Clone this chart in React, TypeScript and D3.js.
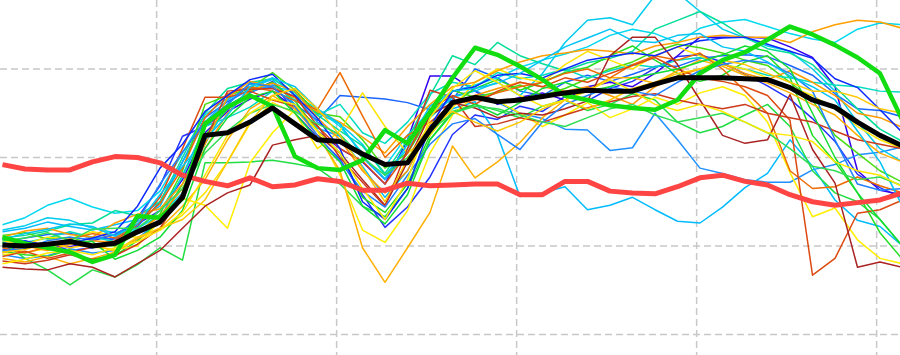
import React from "react";
import * as d3 from "d3";

const W = 900;
const H = 355;

// forecast step index (0..40)
const steps: number[] = d3.range(0, 41);
// positions of the vertical grid lines, in step units
const gridSteps: number[] = [6.85, 14.85, 22.85, 30.85, 38.85];
// horizontal grid values
const gridValues: number[] = [0, 10, 20, 30];

// ensemble mean (thick black)
const meanSeries: number[] = [10.1, 10.0, 10.2, 10.5, 10.0, 10.3, 11.6, 12.7, 15.5, 22.5, 22.8, 24.0, 25.6, 23.8, 22.0, 21.8, 20.4, 19.2, 19.4, 23.1, 26.2, 26.8, 26.3, 26.5, 26.9, 27.3, 27.6, 27.5, 27.5, 28.3, 29.0, 29.0, 29.0, 28.9, 28.8, 27.9, 26.5, 25.7, 24.0, 22.5, 21.3];
// climate reference (thick red)
const climateSeries: number[] = [19.2, 18.7, 18.6, 18.6, 19.5, 20.1, 20.0, 19.4, 18.0, 17.3, 16.8, 17.7, 16.7, 16.9, 17.6, 17.3, 16.3, 16.3, 17.1, 16.8, 16.9, 17.0, 17.0, 15.8, 15.8, 17.3, 17.3, 16.2, 16.0, 15.9, 16.7, 17.7, 18.0, 17.3, 16.9, 15.8, 15.0, 14.6, 14.9, 15.2, 16.0];
// control run (thick green)
const controlSeries: number[] = [11.0, 10.3, 9.8, 9.3, 8.2, 9.0, 13.4, 13.2, 15.4, 23.8, 25.7, 27.0, 25.8, 20.1, 18.8, 18.6, 19.7, 23.1, 21.6, 25.1, 29.0, 32.4, 31.6, 30.3, 28.8, 27.0, 26.5, 25.9, 25.6, 25.4, 26.5, 29.5, 31.0, 31.9, 33.3, 34.8, 33.9, 32.7, 31.3, 29.5, 24.2];

// ensemble members (thin lines)
const members: number[][] = [
  [9.6, 9.9, 10.3, 9.5, 9.8, 10.9, 13.2, 16.8, 22.4, 23.5, 25.4, 27.3, 28.6, 25.0, 22.3, 19.8, 15.8, 12.1, 14.4, 17.8, 22.6, 24.8, 24.3, 25.8, 25.2, 26.9, 26.4, 27.8, 28.6, 30.1, 31.4, 31.6, 30.8, 29.4, 28.1, 26.6, 24.4, 21.8, 18.1, 16.6, 15.4],
  [10.8, 10.5, 10.1, 9.9, 10.6, 11.3, 12.5, 14.0, 17.5, 22.8, 25.2, 26.6, 27.5, 25.5, 23.0, 21.0, 19.5, 17.0, 22.0, 29.2, 29.2, 27.5, 26.0, 26.8, 27.3, 26.5, 28.0, 28.5, 28.0, 29.5, 31.5, 33.6, 33.6, 33.6, 33.5, 32.5, 31.3, 28.0, 18.5, 16.3, 15.8],
  [10.4, 10.9, 11.3, 11.4, 10.9, 10.8, 12.2, 15.0, 19.5, 24.5, 26.3, 27.7, 27.9, 26.0, 24.2, 27.0, 26.8, 26.6, 26.2, 25.4, 26.5, 30.0, 29.0, 27.5, 27.0, 28.5, 29.3, 28.6, 29.4, 30.3, 30.3, 31.2, 31.5, 31.6, 31.4, 30.4, 29.3, 27.2, 25.5, 25.3, 24.6],
  [9.0, 8.6, 8.9, 9.7, 9.2, 9.5, 10.8, 13.0, 18.0, 23.5, 25.8, 27.4, 28.2, 26.8, 24.0, 22.5, 20.0, 17.5, 20.5, 24.8, 26.9, 27.6, 26.2, 25.0, 24.4, 23.2, 23.1, 20.8, 21.1, 25.0, 22.0, 18.8, 18.2, 17.5, 17.2, 17.2, 18.6, 19.2, 20.3, 20.6, 21.2],
  [11.6, 12.0, 12.7, 12.2, 11.8, 12.4, 13.0, 14.5, 19.5, 24.0, 26.5, 28.0, 28.8, 26.0, 23.3, 22.4, 19.0, 15.5, 18.5, 23.5, 25.5, 26.3, 22.5, 15.6, 16.0, 16.7, 14.1, 14.6, 15.5, 14.1, 12.8, 12.6, 14.4, 16.6, 18.2, 22.0, 19.0, 15.2, 12.9, 12.2, 10.0],
  [11.8, 12.3, 13.2, 12.9, 12.0, 11.5, 12.0, 13.5, 16.0, 21.5, 26.0, 28.3, 28.0, 27.5, 25.0, 23.8, 21.5, 18.0, 21.0, 24.5, 26.8, 27.5, 28.5, 27.0, 29.5, 33.0, 35.5, 35.8, 35.0, 38.3, 38.6, 36.5, 34.5, 33.5, 32.6, 32.0, 30.0, 27.5, 24.0, 21.0, 19.5],
  [12.4, 13.2, 14.6, 15.4, 14.4, 13.7, 14.0, 16.2, 20.5, 24.8, 26.7, 27.6, 29.0, 27.0, 25.5, 23.5, 20.5, 19.0, 22.5, 25.3, 27.5, 28.2, 29.0, 30.2, 31.0, 31.7, 32.5, 33.8, 34.5, 34.0, 33.0, 34.6, 35.3, 35.6, 34.8, 34.0, 33.4, 33.0, 34.5, 35.2, 35.0],
  [10.9, 11.2, 11.7, 12.4, 12.6, 14.0, 13.4, 15.0, 20.0, 25.0, 27.8, 28.5, 28.9, 27.3, 24.8, 23.0, 21.3, 18.2, 22.0, 27.0, 31.5, 30.5, 33.0, 31.5, 30.6, 29.8, 30.7, 31.2, 32.0, 34.5, 35.5, 36.5, 35.2, 33.6, 32.3, 31.8, 30.5, 28.0, 25.5, 23.2, 21.8],
  [10.4, 8.6, 7.3, 5.6, 7.3, 6.5, 7.9, 9.8, 8.4, 19.4, 19.4, 19.5, 19.7, 19.3, 18.8, 17.0, 14.5, 13.3, 16.5, 22.0, 25.2, 26.0, 25.3, 24.5, 25.8, 26.5, 25.3, 26.0, 27.2, 26.5, 24.0, 22.8, 23.5, 24.8, 26.0, 23.5, 18.5, 16.0, 15.0, 13.0, 10.0],
  [9.4, 9.0, 8.8, 9.6, 8.2, 8.9, 10.6, 12.8, 17.0, 22.5, 25.5, 27.5, 28.5, 26.4, 23.0, 20.5, 15.5, 13.8, 17.0, 22.5, 26.0, 27.8, 28.8, 27.6, 28.5, 29.6, 30.2, 31.5, 32.6, 31.0, 29.5, 28.6, 29.3, 30.8, 31.5, 29.0, 22.5, 19.5, 16.0, 11.5, 8.5],
  [11.2, 11.5, 10.8, 11.0, 10.2, 10.0, 11.4, 13.6, 18.5, 26.0, 27.0, 27.8, 29.6, 27.6, 25.0, 24.6, 22.0, 18.8, 20.5, 24.8, 27.6, 26.8, 27.4, 28.2, 27.0, 27.8, 28.9, 30.0, 30.8, 32.0, 32.8, 32.4, 31.8, 31.0, 30.4, 28.5, 26.5, 22.5, 20.5, 18.5, 17.2],
  [9.9, 10.4, 10.9, 11.6, 11.0, 10.5, 12.0, 14.0, 17.8, 23.5, 24.5, 25.7, 27.5, 26.5, 24.8, 26.0, 22.8, 21.6, 24.0, 27.2, 28.5, 28.0, 29.6, 28.9, 29.3, 30.0, 29.0, 29.8, 30.5, 30.2, 31.0, 31.3, 30.5, 30.0, 29.3, 29.0, 28.5, 28.2, 28.0, 27.5, 27.4],
  [9.0, 9.3, 9.7, 10.5, 9.9, 9.6, 10.0, 12.9, 15.4, 14.6, 12.0, 19.4, 22.8, 25.4, 23.0, 18.0, 11.8, 10.4, 14.0, 20.5, 24.8, 27.0, 26.4, 25.0, 23.5, 24.8, 26.2, 24.5, 25.5, 26.8, 26.0, 27.3, 28.0, 27.0, 24.0, 18.3, 13.3, 14.3, 10.7, 8.6, 8.0],
  [8.6, 8.2, 8.8, 8.0, 8.6, 9.3, 10.8, 12.0, 14.5, 17.5, 22.0, 25.5, 27.0, 25.5, 22.5, 18.5, 9.8, 5.9, 9.8, 13.8, 21.3, 17.7, 19.5, 21.7, 24.5, 26.5, 27.6, 29.0, 29.0, 28.4, 29.8, 31.0, 30.3, 29.3, 28.4, 27.3, 26.0, 24.8, 22.5, 20.5, 19.5],
  [10.6, 10.2, 11.0, 10.8, 11.6, 11.2, 11.0, 11.8, 13.5, 16.0, 19.5, 23.8, 26.2, 25.0, 21.0, 23.0, 27.3, 23.5, 20.5, 22.5, 25.6, 28.5, 30.0, 29.0, 28.5, 30.5, 32.0, 31.0, 30.0, 31.5, 32.5, 31.5, 30.5, 30.0, 29.0, 28.0, 27.0, 25.5, 23.5, 22.0, 21.0],
  [9.2, 10.0, 9.5, 10.2, 10.6, 10.4, 11.5, 13.4, 16.5, 21.0, 25.0, 27.6, 28.4, 27.5, 24.5, 22.0, 18.5, 16.0, 18.5, 23.5, 26.0, 27.0, 27.8, 28.5, 28.0, 27.5, 28.0, 27.0, 26.0, 28.0, 29.2, 30.0, 30.6, 29.5, 28.8, 29.8, 28.5, 27.0, 25.0, 24.5, 23.4],
  [11.0, 11.7, 12.0, 11.3, 11.0, 12.6, 13.6, 14.2, 17.0, 21.5, 26.8, 28.6, 28.0, 26.7, 25.2, 24.0, 22.3, 20.5, 23.5, 26.0, 28.0, 28.5, 29.8, 30.8, 31.5, 31.8, 32.2, 32.0, 31.7, 32.6, 33.0, 33.6, 33.8, 33.6, 33.6, 33.0, 34.2, 35.0, 35.5, 35.3, 34.6],
  [9.8, 9.2, 9.9, 10.8, 11.4, 10.9, 12.5, 14.8, 18.8, 24.5, 27.2, 28.0, 27.5, 26.4, 25.4, 29.6, 24.7, 20.0, 22.5, 24.0, 26.0, 26.5, 27.3, 28.0, 28.5, 29.5, 30.0, 29.0, 30.5, 31.5, 31.0, 31.8, 30.0, 27.5, 25.0, 18.5, 16.5, 16.7, 17.8, 16.8, 16.0],
  [8.8, 9.4, 8.6, 9.2, 9.9, 10.6, 12.4, 15.5, 21.0, 26.8, 26.8, 27.5, 26.5, 25.8, 23.5, 21.0, 19.6, 17.0, 20.5, 25.5, 27.0, 26.0, 27.5, 28.5, 28.0, 29.0, 28.5, 29.5, 30.4, 31.3, 30.0, 29.0, 28.6, 28.0, 27.0, 24.2, 6.7, 8.6, 13.7, 14.1, 15.2],
  [7.6, 7.4, 7.3, 8.0, 7.6, 6.5, 8.0, 9.5, 12.0, 14.5, 16.0, 16.9, 21.4, 22.0, 22.5, 20.5, 17.5, 14.6, 19.5, 24.8, 26.2, 25.6, 24.5, 25.0, 24.8, 25.5, 26.4, 31.5, 33.6, 33.6, 30.5, 26.5, 22.5, 21.6, 22.0, 27.1, 20.9, 17.1, 7.6, 8.2, 7.6],
  [8.3, 8.0, 8.4, 9.0, 8.5, 8.9, 10.2, 12.0, 16.0, 21.8, 27.5, 27.7, 27.8, 26.9, 23.6, 20.0, 17.2, 14.5, 21.0, 27.6, 26.8, 23.5, 23.8, 24.5, 24.0, 24.8, 25.6, 26.3, 26.9, 27.2, 26.5, 26.0, 25.5, 26.0, 25.0, 24.5, 24.0, 23.0, 22.0, 21.5, 21.0],
  [9.5, 9.7, 10.6, 11.0, 10.7, 11.3, 12.8, 17.0, 20.6, 24.0, 26.0, 28.4, 28.0, 25.8, 22.5, 19.6, 16.2, 14.4, 18.0, 21.5, 23.8, 24.4, 22.6, 20.9, 24.0, 26.0, 27.0, 28.0, 27.5, 27.0, 28.5, 29.8, 30.5, 31.0, 30.7, 29.5, 27.5, 22.0, 17.0, 16.3, 16.5],
  [10.0, 10.6, 10.0, 10.3, 10.9, 11.6, 14.5, 18.8, 21.5, 25.2, 27.0, 28.8, 29.4, 27.0, 24.4, 21.0, 15.0, 13.0, 16.5, 23.5, 27.5, 28.0, 29.3, 29.5, 29.0, 30.0, 31.0, 31.4, 31.8, 31.5, 32.5, 33.2, 33.5, 33.6, 32.8, 32.0, 31.2, 28.9, 27.9, 25.4, 22.8],
  [10.8, 11.4, 11.9, 12.5, 12.2, 11.1, 12.5, 15.8, 19.0, 22.0, 24.8, 28.0, 29.0, 28.0, 25.5, 23.8, 20.2, 17.6, 21.5, 25.8, 27.5, 27.8, 28.4, 29.5, 31.0, 32.5, 33.5, 34.5, 33.2, 33.0, 33.8, 34.0, 32.5, 32.0, 30.8, 29.2, 28.0, 26.5, 23.0, 19.5, 14.5],
  [10.2, 10.0, 9.8, 10.5, 10.5, 8.5, 9.5, 11.0, 14.0, 21.0, 24.5, 26.8, 27.5, 25.0, 22.0, 19.5, 14.5, 12.5, 15.8, 22.0, 25.0, 26.0, 24.8, 26.2, 27.8, 28.5, 27.5, 28.0, 29.0, 29.5, 30.0, 30.8, 31.6, 32.6, 32.0, 30.0, 25.0, 20.0, 16.0, 13.0, 10.0],
  [10.6, 10.9, 11.5, 10.6, 11.9, 12.0, 12.0, 14.0, 16.5, 20.5, 23.0, 25.0, 26.0, 25.2, 23.8, 22.6, 20.0, 18.0, 20.0, 23.0, 25.0, 25.8, 25.5, 24.8, 24.0, 23.5, 24.5, 25.5, 26.0, 24.8, 24.0, 24.5, 25.0, 24.0, 22.8, 21.0, 19.0, 18.5, 17.5, 17.8, 16.8],
  [9.3, 9.6, 10.4, 9.8, 10.2, 9.4, 11.0, 12.0, 13.0, 15.2, 19.5, 24.0, 27.0, 27.8, 25.5, 22.5, 18.8, 15.0, 19.8, 23.8, 25.2, 24.0, 23.0, 24.0, 25.5, 26.5, 25.5, 26.5, 27.8, 28.5, 29.5, 30.0, 31.0, 30.5, 29.5, 28.5, 27.5, 27.5, 26.8, 25.5, 25.0],
  [8.0, 8.5, 9.2, 9.5, 9.0, 9.8, 10.5, 11.8, 13.8, 18.0, 22.5, 25.0, 26.6, 26.0, 23.0, 20.5, 16.5, 13.0, 17.5, 24.5, 27.8, 29.8, 28.5, 27.0, 25.8, 26.5, 27.5, 28.8, 27.5, 26.0, 25.3, 26.0, 25.2, 24.0, 22.8, 22.5, 21.8, 19.5, 18.5, 18.0, 16.7],
];

const memberColors: string[] = [
  "#2233ff", "#3300ee", "#1a66ff", "#1e90ff", "#00bbff", "#00ccee", "#00d8f0",
  "#00dd99", "#22dd44", "#22dd22", "#44dd11", "#00dcc0", "#ffee00", "#ffb000",
  "#ffe400", "#ff9900", "#ffa000", "#ee6a00", "#dd4a11", "#aa2222", "#cc3a1c",
  "#2080ff", "#0a28ff", "#00c4f4", "#11dd33", "#33dd55", "#ffc800", "#ffe800",
];

export default function App() {
  const x = d3.scaleLinear().domain([0, 40]).range([2.5, 902.5]);
  const y = d3.scaleLinear().domain([0, 30]).range([334.5, 69]);
  const line = d3
    .line<number>()
    .x((_, i) => x(steps[i]))
    .y((d) => y(d));

  return (
    <svg
      width={W}
      height={H}
      style={{ position: "absolute", left: 0, top: 0, background: "#fff" }}
    >
      <g>
        {gridSteps.map((g) => (
          <line
            key={"gx" + g}
            x1={x(g)}
            x2={x(g)}
            y1={0}
            y2={H}
            stroke="#c8c8c8"
            strokeWidth={1.5}
            strokeDasharray="7,4"
          />
        ))}
        {gridValues.map((g) => (
          <line
            key={"gy" + g}
            x1={0}
            x2={W}
            y1={y(g)}
            y2={y(g)}
            stroke="#c8c8c8"
            strokeWidth={1.5}
            strokeDasharray="7,4"
          />
        ))}
      </g>
      <g fill="none" strokeLinejoin="round">
        {members.map((m, k) => (
          <path key={k} d={line(m) || ""} stroke={memberColors[k]} strokeWidth={1.5} />
        ))}
      </g>
      <path d={line(climateSeries) || ""} fill="none" stroke="#ff4444" strokeWidth={5} strokeLinejoin="round" />
      <path d={line(controlSeries) || ""} fill="none" stroke="#11dd11" strokeWidth={4.5} strokeLinejoin="round" />
      <path d={line(meanSeries) || ""} fill="none" stroke="#000" strokeWidth={5} strokeLinejoin="round" />
    </svg>
  );
}
